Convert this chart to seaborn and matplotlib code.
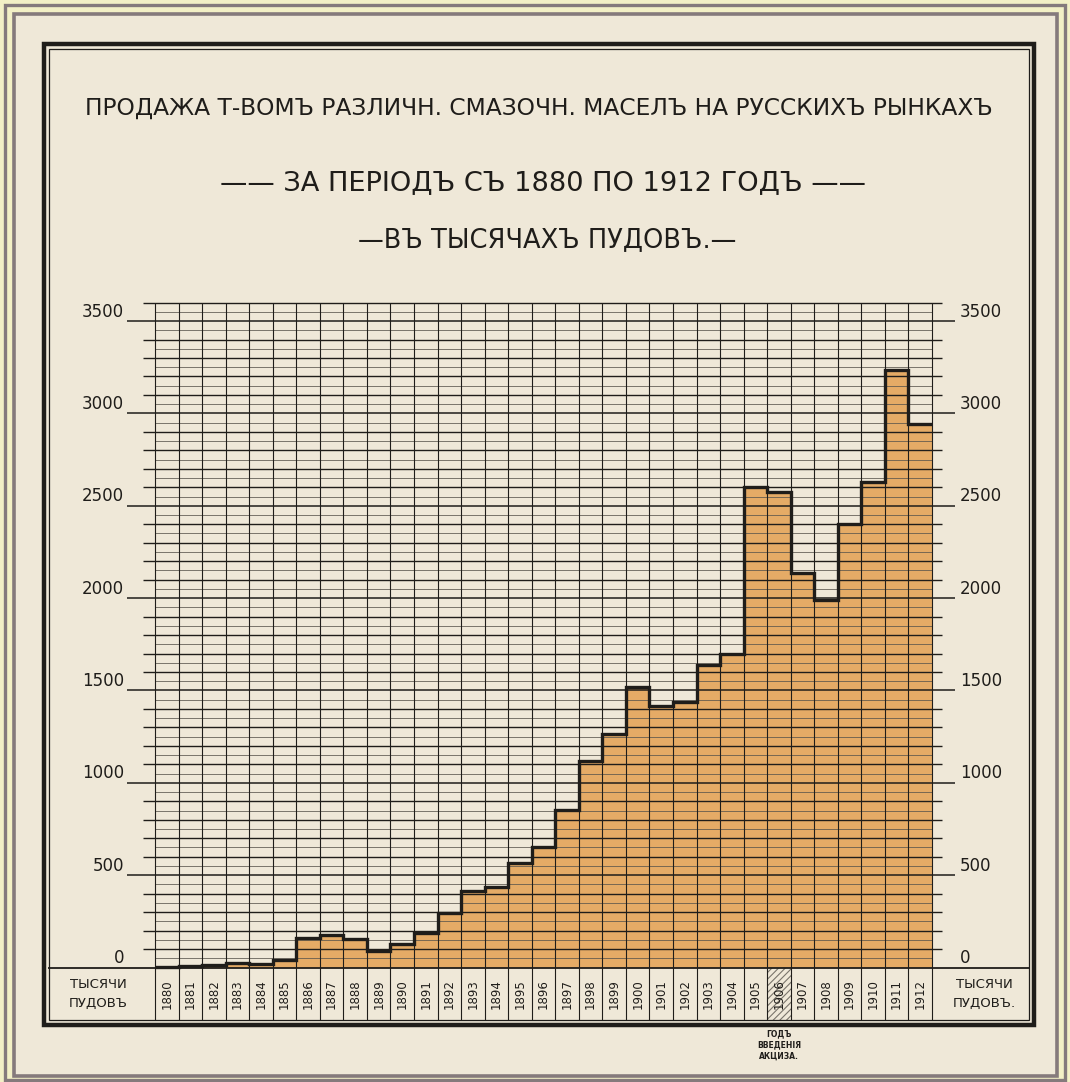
import matplotlib
matplotlib.use('Agg')
import numpy as np
import matplotlib.pyplot as plt
from matplotlib.patches import Rectangle
import seaborn as sns

# sales of lubricating oils, thousands of poods
years = [1880, 1881, 1882, 1883, 1884, 1885, 1886, 1887, 1888, 1889, 1890,
         1891, 1892, 1893, 1894, 1895, 1896, 1897, 1898, 1899, 1900, 1901,
         1902, 1903, 1904, 1905, 1906, 1907, 1908, 1909, 1910, 1911, 1912]
sales = [5, 8, 15, 25, 20, 40, 160, 175, 157, 90, 125,
         185, 293, 415, 437, 568, 652, 852, 1118, 1266, 1520, 1416,
         1438, 1636, 1696, 2603, 2576, 2137, 1990, 2400, 2630, 3235, 2943]
y_ticks = [0, 500, 1000, 1500, 2000, 2500, 3000, 3500]
excise_year = 1906

title_1 = 'ПРОДАЖА Т-ВОМЪ РАЗЛИЧН. СМАЗОЧН. МАСЕЛЪ НА РУССКИХЪ РЫНКАХЪ'
title_2 = '—— ЗА ПЕРІОДЪ СЪ 1880 ПО 1912 ГОДЪ ——'
title_3 = '—ВЪ ТЫСЯЧАХЪ ПУДОВЪ.—'
unit_left = 'ТЫСЯЧИ\nПУДОВЪ'
unit_right = 'ТЫСЯЧИ\nПУДОВЪ.'
excise_note = 'ГОДЪ\nВВЕДЕНІЯ\nАКЦИЗА.'

W, H = 1070, 1082
PAPER = '#efe8d8'
FILL = '#e5ab66'
INK = '#1f1d1a'
FRAME = '#857a7c'

sns.set_theme(style='white')
plt.rcParams['font.family'] = ['DejaVu Sans']
plt.rcParams['hatch.linewidth'] = 0.8

fig = plt.figure(figsize=(W / 100, H / 100), dpi=100, facecolor='#f3f0c6')
ax = fig.add_axes([0, 0, 1, 1])

# calibration of the sheet: column grid and value scale in pixels
X0, DX = 155, 23.545
Y0, DY = 967.5, 0.1847


def px_x(px):
    return (px - X0) / DX - 0.5


def px_y(py):
    return (Y0 - py) / DY


def frame(x0, y0, x1, y1, **kw):
    ax.add_patch(Rectangle((x0 / W, 1 - y1 / H), (x1 - x0) / W, (y1 - y0) / H,
                           transform=ax.transAxes, **kw))


def fit_text(x0, x1, yc, s, size=14, **kw):
    t = ax.text((x0 + x1) / 2 / W, 1 - yc / H, s, transform=ax.transAxes,
                ha='center', va='center', fontsize=size, color=INK, **kw)
    w = t.get_window_extent(fig.canvas.get_renderer()).width
    t.set_fontsize(size * (x1 - x0) / w)
    return t


# paper and outer frames
frame(14, 14, W - 13, H - 6, facecolor=PAPER, edgecolor=FRAME, lw=2.6, zorder=0)
frame(5, 5, W - 5, H - 2, fill=False, edgecolor=FRAME, lw=2.4, zorder=0.5)

# bars
sns.barplot(x=years, y=sales, width=1.0, color=FILL, saturation=1,
            linewidth=0, ax=ax, zorder=1)
n = len(years)
edges = np.arange(n + 1) - 0.5
ax.stairs(sales, edges, baseline=None, color=INK, lw=2.4, zorder=3)

# grid
top = 3600
for v in range(50, top + 1, 50):
    if v % 500 == 0:
        ax.hlines(v, px_x(127), px_x(955), color=INK, lw=1.1, zorder=2)
    elif v % 100 == 0:
        ax.hlines(v, px_x(143), px_x(942), color=INK, lw=1.0, zorder=2)
    else:
        ax.hlines(v, edges[0], edges[-1], color='#5a554d', lw=0.55, zorder=2)
ax.vlines(edges, px_y(1020), top, color=INK, lw=0.8, zorder=2)
ax.hlines(0, px_x(48), px_x(1030), color=INK, lw=1.3, zorder=2)

# value labels on both sides
for v in y_ticks:
    ax.text(px_x(124), v + 2, str(v), ha='right', va='bottom', fontsize=12,
            color=INK, zorder=5)
    ax.text(px_x(960), v + 2, str(v), ha='left', va='bottom', fontsize=12,
            color=INK, zorder=5)

# year band
band_mid = px_y(994)
for i, yr in enumerate(years):
    ax.text(i, band_mid, str(yr), rotation=90, ha='center', va='center',
            fontsize=8.5, color=INK, zorder=5)
ix = years.index(excise_year)
ax.add_patch(Rectangle((ix - 0.5, px_y(1020)), 1, px_y(968) - px_y(1020),
                       hatch='/////', fill=False, edgecolor='#7a756c', lw=0,
                       zorder=1.5))
ax.text(ix, px_y(1029), excise_note, ha='center', va='top', fontsize=5.5,
        fontweight='bold', color=INK, linespacing=1.35, zorder=5)

ax.text(px_x(98), band_mid, unit_left, ha='center', va='center', fontsize=9.5,
        color=INK, linespacing=1.6, zorder=5)
ax.text(px_x(984), band_mid, unit_right, ha='center', va='center', fontsize=9.5,
        color=INK, linespacing=1.6, zorder=5)

# black double frame
frame(44, 44, 1034, 1025, fill=False, edgecolor=INK, lw=3.2, zorder=4)
frame(49, 49, 1029, 1020, fill=False, edgecolor=INK, lw=0.9, zorder=4)

# titles
t1 = fit_text(82, 995, 108, title_1)
fit_text(218, 868, 183, title_2)
ax.text(547 / W, 1 - 240 / H, title_3, transform=ax.transAxes, ha='center',
        va='center', fontsize=t1.get_fontsize() * 1.1, color=INK)

ax.set_xlim(px_x(0), px_x(W))
ax.set_ylim(px_y(H), px_y(0))
ax.set_axis_off()

fig.savefig('out.png', dpi=100)
